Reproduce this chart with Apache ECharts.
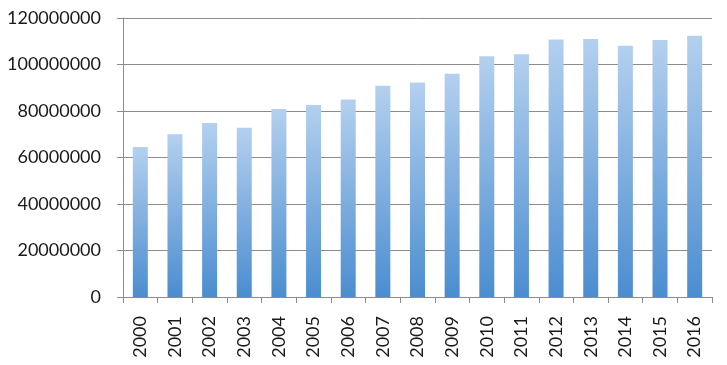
<!DOCTYPE html>
<html>
<head>
<meta charset="utf-8">
<script src="https://cdn.jsdelivr.net/npm/echarts@6/dist/echarts.min.js"></script>
<style>html,body{margin:0;padding:0;background:#fff}#c{width:727px;height:365px}</style>
</head>
<body>
<div id="c"></div>
<script>
const categories = ['2000','2001','2002','2003','2004','2005','2006','2007','2008','2009','2010','2011','2012','2013','2014','2015','2016'];
const values = [64500000,70000000,74800000,72800000,80900000,82600000,85000000,90900000,92300000,96000000,103500000,104400000,110700000,111000000,108100000,110500000,112400000];

const chart = echarts.init(document.getElementById('c'), null, {renderer:'canvas'});
chart.setOption({
  animation:false,
  grid:{left:123,right:15,top:18,bottom:68},
  xAxis:{
    type:'category',
    data:categories,
    axisLine:{lineStyle:{color:'#8c8c8c',width:1}},
    axisTick:{show:true,length:6,alignWithLabel:false,lineStyle:{color:'#8c8c8c'}},
    axisLabel:{rotate:90,margin:19,color:'#1a1a1a',fontFamily:'Lato',fontSize:18,interval:0}
  },
  yAxis:{
    type:'value',
    min:0,max:120000000,interval:20000000,
    axisLine:{show:true,lineStyle:{color:'#8c8c8c',width:1}},
    axisTick:{show:true,length:6,lineStyle:{color:'#8c8c8c'}},
    splitLine:{lineStyle:{color:'#8c8c8c',width:1}},
    axisLabel:{margin:22,color:'#1a1a1a',fontFamily:'Lato',fontSize:18,formatter:function(v){return String(v);}}
  },
  series:[{
    type:'bar',
    data:values,
    barWidth:15,
    itemStyle:{color:new echarts.graphic.LinearGradient(0,0,0,1,[{offset:0,color:'#b4d0ef'},{offset:1,color:'#4b8dd0'}])}
  }]
});
</script>
</body>
</html>
